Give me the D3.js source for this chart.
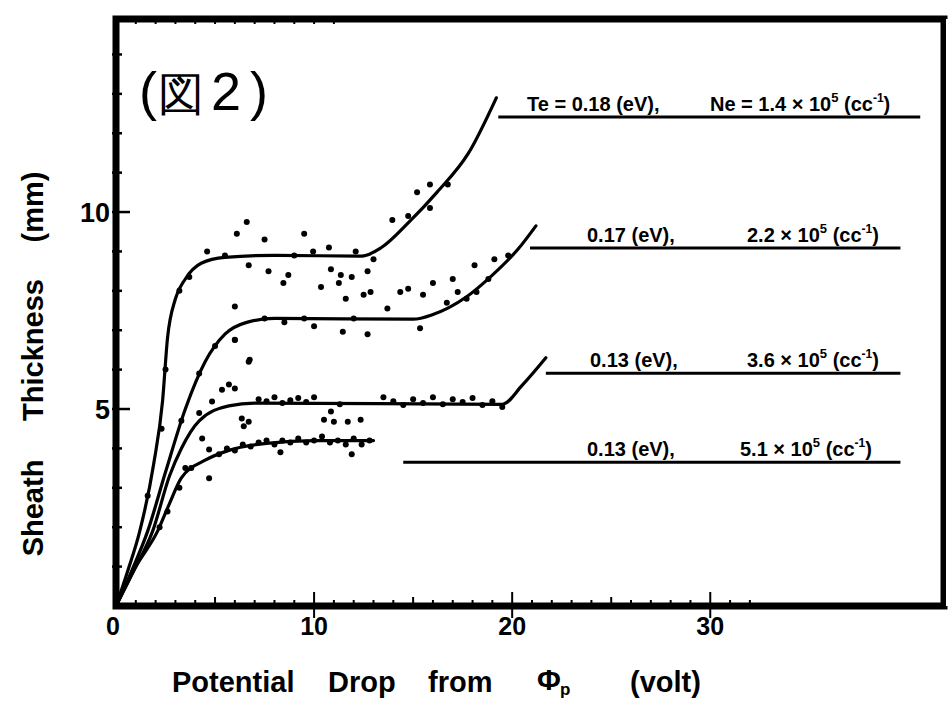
<!DOCTYPE html>
<html>
<head>
<meta charset="utf-8">
<script src="https://cdn.jsdelivr.net/npm/d3@7.9.0/dist/d3.min.js"></script>
<style>
  body { margin: 0; background: #fff; }
  svg { display: block; }
  text { font-family: "Liberation Sans", Arial, sans-serif; fill: #000; }
</style>
</head>
<body>
<svg id="chart" width="950" height="701"></svg>
<script>
// fitted curves (potential drop V, sheath thickness mm)
const curve1 = [[0,0],[0.6,0.9],[1.2,1.9],[1.9,3.6],[2.35,5.2],[2.6,6.8],[3.0,7.8],[3.5,8.3],[4.3,8.7],[5.5,8.85],[8,8.9],[12.4,8.88],[13.4,9.1],[14.8,9.75],[16.2,10.5],[17.8,11.5],[19.2,12.9]];
const curve2 = [[0,0],[0.8,0.9],[1.6,1.9],[2.5,3.4],[3.5,5.0],[4.5,6.2],[5.5,6.9],[6.6,7.2],[8,7.3],[15,7.28],[16,7.4],[17.7,7.85],[19,8.4],[20.3,9.06],[21.2,9.65]];
const curve3 = [[0,0],[0.9,0.9],[1.85,1.9],[2.7,3.3],[3.3,4.0],[4.2,4.7],[5.7,5.08],[7,5.15],[19.5,5.12],[20.5,5.6],[21.7,6.3]];
const curve4 = [[0,0],[1,1.0],[2.1,1.9],[2.7,2.6],[3.3,3.25],[4.5,3.7],[5.7,3.95],[7.6,4.13],[10,4.2],[13,4.2]];

// measured points
const points1 = [[3.7,8.35],[4.6,9.0],[6.1,9.45],[6.6,9.75],[7.5,9.3],[9.5,9.45],[6.7,8.65],[7.7,8.5],[8.7,8.4],[8.45,8.2],[9.95,9.0],[10.75,9.1],[10.85,8.55],[11.35,8.4],[11.9,8.35],[10.35,8.1],[11.25,8.2],[11.6,7.8],[12.5,7.9],[12.85,7.97],[12.7,8.5],[13,8.8],[12.1,9.0],[13.95,9.8],[14.75,9.9],[15.2,10.5],[15.85,10.7],[15.85,10.1],[16.75,10.7],[2.5,6.0],[2.3,4.5],[1.6,2.8],[3.2,8.0],[5.5,8.9],[9,8.9]];
const points2 = [[6.0,7.6],[6.0,6.75],[6.75,6.25],[14.35,7.97],[14.75,8.05],[15.5,7.9],[16,8.2],[13.7,7.55],[16.7,7.7],[17.25,7.97],[17.7,7.8],[18.2,7.97],[11.45,6.96],[12.7,6.9],[10,7.1],[15.35,7.05],[8.5,7.2],[3.3,4.7],[4.2,5.9],[5.0,6.6],[7.5,7.3],[9.5,7.3],[12,7.3],[18.8,8.3],[19.8,8.9],[18.1,8.65],[19.1,8.8],[17.0,8.3]];
const points3 = [[4.85,5.19],[5.7,5.62],[6.0,5.52],[5.35,5.49],[6.7,6.2],[6.0,6.76],[6.35,4.76],[6.7,4.68],[6.45,4.56],[10.5,4.73],[11.0,4.68],[11.7,4.68],[12.35,4.73],[10.85,4.94],[7.2,5.25],[7.6,5.2],[8.0,5.3],[8.4,5.15],[8.8,5.22],[9.2,5.28],[9.6,5.18],[10.0,5.3],[11.3,5.12],[14.0,5.2],[14.5,5.1],[15.0,5.25],[15.5,5.15],[16.0,5.3],[16.5,5.12],[17.0,5.25],[17.5,5.18],[18.0,5.28],[18.5,5.1],[19.0,5.2],[19.5,5.05],[13.5,5.3],[3.5,3.5],[4.2,4.9]];
const points4 = [[4.35,4.25],[4.7,3.97],[4.7,3.24],[3.2,3.0],[3.8,3.5],[5.2,3.85],[5.6,4.0],[6.0,3.95],[6.4,4.1],[6.8,4.05],[7.2,4.15],[7.6,4.2],[8.0,4.1],[8.4,4.2],[8.8,4.15],[9.2,4.25],[9.6,4.15],[10.0,4.2],[10.4,4.3],[10.8,4.15],[11.2,4.2],[11.6,4.1],[12.0,4.25],[12.4,4.1],[12.8,4.2],[8.3,3.9],[11.9,3.85],[2.6,2.4],[2.2,2.0]];

const teLabels = ["Te = 0.18 (eV),", "0.17 (eV),", "0.13 (eV),", "0.13 (eV),"];
const neLabels = ["Ne = 1.4 × 10", "2.2 × 10", "3.6 × 10", "5.1 × 10"];
// leader line: from x, to x, at y (data units)
const leaderLines = [[19.3, 40.6, 12.41], [20.9, 39.6, 9.09], [21.7, 39.6, 5.91], [14.5, 39.6, 3.65]];
const xTicks = [0, 10, 20, 30];
const yTicks = [5, 10];

const svg = d3.select('#chart');
const x = d3.scaleLinear().domain([0, 41.8]).range([116, 944]);
const y = d3.scaleLinear().domain([0, 14.9]).range([606, 19]);

// minor ticks
const g = svg.append('g').attr('stroke', '#000');
d3.range(1, 33).forEach(v => {
  let h = v % 10 === 0 ? 14 : (v % 5 === 0 ? 9 : 6);
  g.append('line').attr('x1', x(v)).attr('x2', x(v))
    .attr('y1', y(0)).attr('y2', y(0) - h).attr('stroke-width', 2);
});
xTicks.slice(1).forEach(v => {
  g.append('line').attr('x1', x(v)).attr('x2', x(v))
    .attr('y1', y(0)).attr('y2', y(0) + 12).attr('stroke-width', 2);
});
d3.range(1, 12).forEach(v => {
  g.append('line').attr('x1', x(v)).attr('x2', x(v))
    .attr('y1', y(14.9)).attr('y2', y(14.9) + 5).attr('stroke-width', 2);
});
d3.range(1, 15).forEach(v => {
  let w = v % 5 === 0 ? 14 : 6;
  g.append('line').attr('x1', x(0) - 4).attr('x2', x(0) + w)
    .attr('y1', y(v)).attr('y2', y(v)).attr('stroke-width', 2.5);
});

// frame
svg.append('path')
  .attr('d', `M${x(0)},${y(14.9)}H${x(41.8)}V${y(0)}H${x(0)}Z`)
  .attr('fill', 'none').attr('stroke', '#000').attr('stroke-width', 7);
svg.append('line').attr('x1', x(41.8)).attr('x2', x(41.8))
  .attr('y1', y(14.9)).attr('y2', y(0)).attr('stroke', '#fff').attr('stroke-width', 2)
  .attr('transform', 'translate(3,0)');

// tick labels
svg.selectAll('.xt').data(xTicks).join('text')
  .attr('x', d => x(d) - (d === 0 ? 3 : 0)).attr('y', 635)
  .attr('text-anchor', 'middle').attr('font-size', 25).attr('font-weight', 'bold')
  .text(d => d);
svg.selectAll('.yt').data(yTicks).join('text')
  .attr('x', 110).attr('y', d => y(d) + 10)
  .attr('text-anchor', 'end').attr('font-size', 27).attr('font-weight', 'bold')
  .text(d => d);

// axis titles
const xTitle = [["Potential", 172], ["Drop", 328], ["from", 428], ["(volt)", 630]];
xTitle.forEach(([t, px]) => {
  svg.append('text').attr('x', px).attr('y', 692).attr('font-size', 29)
    .attr('font-weight', 'bold').text(t);
});
svg.append('text').attr('x', 537).attr('y', 690).attr('font-size', 29).attr('font-weight', 'bold')
  .text('Φ');
svg.append('text').attr('x', 560).attr('y', 695).attr('font-size', 17).attr('font-weight', 'bold')
  .text('p');

const yTitle = [["Sheath", 508], ["Thickness", 350], ["(mm)", 207]];
yTitle.forEach(([t, py]) => {
  svg.append('text').attr('transform', `translate(43,${py}) rotate(-90)`)
    .attr('text-anchor', 'middle').attr('font-size', 29).attr('font-weight', 'bold').text(t);
});

// figure tag
const tag = [["(", 139], ["図", 158], ["2", 211], [")", 250]];
tag.forEach(([t, px]) => {
  svg.append('text').attr('x', px).attr('y', 110)
    .attr('font-family', '"Noto Sans CJK JP", sans-serif')
    .attr('font-size', t === "図" ? 46 : 54).text(t);
});

// curves
const line = d3.line().x(d => x(d[0])).y(d => y(d[1])).curve(d3.curveMonotoneX);
[curve1, curve2, curve3, curve4].forEach(c => {
  svg.append('path').attr('d', line(c)).attr('fill', 'none')
    .attr('stroke', '#000').attr('stroke-width', 3.2).attr('stroke-linecap', 'round');
});

// points
[points1, points2, points3, points4].forEach(ps => {
  svg.append('g').selectAll('circle').data(ps).join('circle')
    .attr('cx', d => x(d[0])).attr('cy', d => y(d[1])).attr('r', 3).attr('fill', '#000');
});

// annotations
const teX = [527, 587, 590, 587];
const neX = [710, 747, 747, 740];
leaderLines.forEach((l, i) => {
  svg.append('line').attr('x1', x(l[0])).attr('x2', x(l[1]))
    .attr('y1', y(l[2])).attr('y2', y(l[2])).attr('stroke', '#000').attr('stroke-width', 3);
  const by = y(l[2]) - 6;
  svg.append('text').attr('x', teX[i]).attr('y', by).attr('font-size', 20)
    .attr('font-weight', 'bold').text(teLabels[i]);
  const t = svg.append('text').attr('x', neX[i]).attr('y', by).attr('font-size', 20)
    .attr('font-weight', 'bold').text(neLabels[i]);
  t.append('tspan').attr('font-size', 13).attr('dy', -9).text('5');
  t.append('tspan').attr('dy', 9).text(' (cc');
  t.append('tspan').attr('font-size', 12).attr('dy', -9).text('-1');
  t.append('tspan').attr('dy', 9).text(')');
});
</script>
</body>
</html>
